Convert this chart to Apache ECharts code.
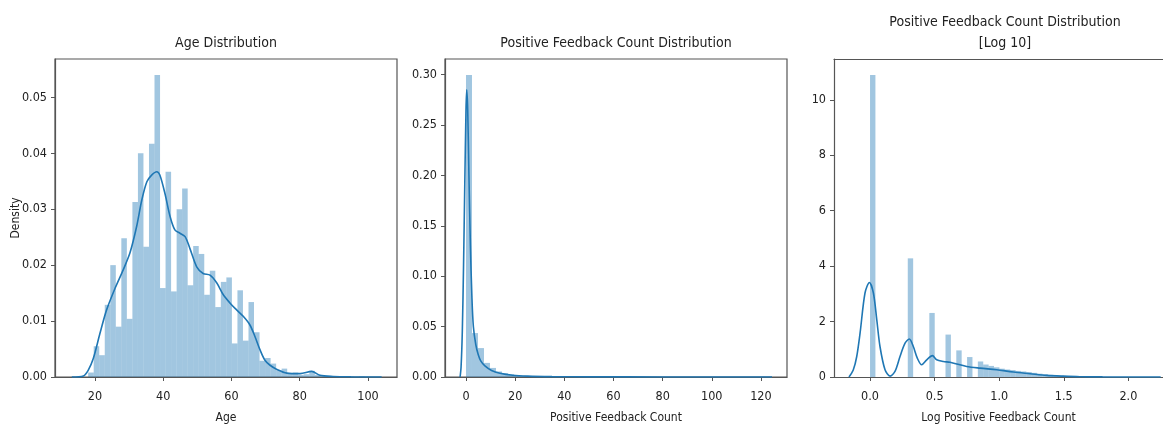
<!DOCTYPE html>
<html>
<head>
<meta charset="utf-8">
<script src="https://cdn.jsdelivr.net/npm/echarts@6/dist/echarts.min.js"></script>
<style>
html, body { margin: 0; padding: 0; background: #fff; }
#chart-panel { width: 1163px; height: 425px; }
</style>
</head>
<body>
<div id="chart-panel"></div>
<script>
/* Age 直方图: 起点, 组宽, 每组密度. */
let ageBinStart = 18
let ageBinWidth = 1.62
let ageDensity = [
    0.0008, 0.0055, 0.0039, 0.0129, 0.0200, 0.0090, 0.0248, 0.0104, 0.0313, 0.0400,
    0.0233, 0.0417, 0.0540, 0.0159, 0.0367, 0.0153, 0.0300, 0.0337, 0.0164, 0.0234,
    0.0220, 0.0147, 0.0190, 0.0125, 0.0170, 0.0178, 0.0060, 0.0155, 0.0065, 0.0134,
    0.0080, 0.0029, 0.0034, 0.0024, 0.0012, 0.0015, 0.0006, 0.0008, 0.0004, 0.0005,
    0.0011, 0.0004, 0.0002, 0.0002, 0.0001, 0.0001, 0.0001, 0.0001, 0, 0.0001
]
/* Age 核密度曲线. */
let ageKdeX = [13.2, 16.6, 18, 19.5, 21.5, 23.4, 25.9, 28.3, 30.3, 32.2, 33.7, 35.2, 36.6, 38.1, 39, 40.5,
    42, 43.4, 44.9, 46.4, 47.8, 49.8, 51.7, 53.7, 55.7, 57.6, 59.6, 61.5, 63.5, 65.4, 66.9, 68.4,
    69.8, 71.3, 73.2, 76.2, 80.1, 83.5, 85.9, 89.8, 95, 104]
let ageKdeY = [0, 0.0002, 0.0012, 0.0033, 0.0079, 0.012, 0.0159, 0.0192, 0.0223, 0.0269, 0.0316, 0.0349, 0.0361, 0.0367, 0.0361, 0.0328,
    0.0287, 0.0263, 0.0257, 0.0251, 0.023, 0.0197, 0.0185, 0.0182, 0.0168, 0.0147, 0.0132, 0.012, 0.0108, 0.0093, 0.0072, 0.0048,
    0.003, 0.0021, 0.0014, 0.0007, 0.0006, 0.001, 0.0003, 0.0001, 0.00003, 0]
let ageTicks = [20, 40, 60, 80, 100]
let ageDensityTicks = [0, 0.01, 0.02, 0.03, 0.04, 0.05]

/* Positive Feedback Count 直方图. */
let fbBinStart = 0
let fbBinWidth = 2.44
let fbDensity = [
    0.2997, 0.0436, 0.0287, 0.0140, 0.0090, 0.0055, 0.0038, 0.0026, 0.0018, 0.0012,
    0.0009, 0.0006, 0.0005, 0.0004, 0.0003, 0.0002, 0.0002, 0.0002, 0.0001, 0.0001,
    0.0001, 0.0001, 0.0001, 0, 0.0001, 0, 0.0001, 0, 0, 0.0001,
    0, 0, 0, 0, 0, 0, 0, 0, 0, 0,
    0, 0, 0, 0, 0, 0, 0, 0, 0, 0.0001
]
let fbKdeX = [-2.4, -2.0, -1.5, -1.0, -0.5, 0, 0.3, 0.7, 1.2, 1.8, 2.4, 3.0, 4.0, 5.0, 6.0, 7.7, 10.4, 13.8, 19, 25, 35, 50, 80, 124.5]
let fbKdeY = [0, 0.01, 0.045, 0.11, 0.19, 0.265, 0.285, 0.265, 0.2, 0.13, 0.08, 0.05, 0.032, 0.022, 0.016, 0.011, 0.0065, 0.0038, 0.0018, 0.0009, 0.0004, 0.00015, 0.00005, 0]
let fbTicks = [0, 20, 40, 60, 80, 100, 120]
let fbDensityTicks = [0, 0.05, 0.10, 0.15, 0.20, 0.25, 0.30]

/* Log10 Positive Feedback Count 直方图. */
let logBinStart = 0
let logBinWidth = 0.04173
let logDensity = [
    10.89, 0, 0, 0, 0, 0, 0, 4.28, 0, 0,
    0, 2.31, 0, 0, 1.53, 0, 0.96, 0, 0.72, 0,
    0.56, 0.45, 0.40, 0.35, 0.30, 0.27, 0.25, 0.22, 0.20, 0.18,
    0.15, 0.12, 0.10, 0.08, 0.06, 0.045, 0.035, 0.025, 0.018, 0.012,
    0.008, 0.006, 0.004, 0.003, 0.002, 0.001, 0.001, 0.0005, 0.0005, 0.0003
]
let logKdeX = [-0.163, -0.13, -0.103, -0.077, -0.039, -0.005, 0.026, 0.052, 0.077, 0.116, 0.155, 0.193, 0.232, 0.271, 0.304, 0.335,
    0.366, 0.4, 0.439, 0.483, 0.516, 0.568, 0.619, 0.671, 0.748, 0.851, 0.98, 1.11, 1.238, 1.367, 1.496, 1.625, 1.8, 2.0, 2.25]
let logKdeY = [0, 0.25, 0.74, 1.59, 3.03, 3.41, 3.03, 2.07, 1.1, 0.26, 0.03, 0.2, 0.74, 1.22, 1.37, 1.1,
    0.68, 0.44, 0.62, 0.77, 0.62, 0.56, 0.53, 0.47, 0.38, 0.32, 0.26, 0.18, 0.12, 0.06, 0.03, 0.01, 0.003, 0.001, 0]
let logTicks = [0, 0.5, 1.0, 1.5, 2.0]
let logDensityTicks = [0, 2, 4, 6, 8, 10]

! function(){
    let FONT = '"DejaVu Sans Condensed", "DejaVu Sans", sans-serif'
    let TEXT_COLOR = '#222'
    let AXIS_COLOR = '#555'
    let HIST_COLOR = 'rgba(31,119,180,0.42)'
    let LINE_COLOR = '#1f77b4'

    /* 每个子图的位置. 第三个子图右侧被画布裁掉, 所以不画网格边框. */
    let grids = [
        {left: 55, top: 59, width: 342, height: 318, show: true},
        {left: 445, top: 59, width: 342, height: 318, show: true},
        {left: 834, top: 59, right: 0, height: 318, show: false}
    ]

    /* 直方图 -> [x0, x1, 高度]. */
    function toBins(start, width, heights){
        return heights.map((h, i) => [start + i * width, start + (i + 1) * width, h])
    }

    function zip(xs, ys){
        return xs.map((x, i) => [x, ys[i]])
    }

    function renderHist(params, api){
        let p0 = api.coord([api.value(0), api.value(2)])
        let p1 = api.coord([api.value(1), 0])
        return {
            type: 'rect',
            shape: {x: p0[0], y: p0[1], width: p1[0] - p0[0], height: p1[1] - p0[1]},
            style: {fill: HIST_COLOR}
        }
    }

    function makeAxis(idx, min, max, ticks, digits, extra){
        return Object.assign({
            type: 'value',
            gridIndex: idx,
            min: min,
            max: max,
            splitLine: {show: false},
            axisLine: {show: true, onZero: false, lineStyle: {color: AXIS_COLOR, width: 1.2}},
            axisTick: {show: true, customValues: ticks, length: 4, lineStyle: {color: AXIS_COLOR, width: 1}},
            axisLabel: {
                customValues: ticks,
                formatter: (v) => Number(v).toFixed(digits),
                color: TEXT_COLOR, fontSize: 12.5, fontFamily: FONT
            },
            nameMoveOverlap: false,
            nameTextStyle: {color: TEXT_COLOR, fontSize: 12, fontFamily: FONT}
        }, extra)
    }

    function xAxis(idx, min, max, ticks, digits, name){
        let ax = makeAxis(idx, min, max, ticks, digits, {name: name, nameLocation: 'middle', nameGap: 35})
        ax.axisLabel.margin = 13
        return ax
    }

    function yAxis(idx, min, max, ticks, digits, name){
        let ax = makeAxis(idx, min, max, ticks, digits, {name: name || '', nameLocation: 'middle', nameGap: 33})
        ax.axisLabel.margin = 8
        return ax
    }

    /* 第三个子图顶部的边框线. */
    function topLine(idx, min, max){
        return {
            type: 'value', gridIndex: idx, position: 'top', min: min, max: max,
            splitLine: {show: false}, axisTick: {show: false}, axisLabel: {show: false},
            axisLine: {show: true, onZero: false, lineStyle: {color: AXIS_COLOR, width: 1.2}}
        }
    }

    function titleAt(text, cx, top){
        return {
            text: text, left: cx, top: top, textAlign: 'center', padding: 0,
            textStyle: {color: TEXT_COLOR, fontSize: 14, fontWeight: 'normal', fontFamily: FONT, lineHeight: 21}
        }
    }

    let panels = [
        {hist: toBins(ageBinStart, ageBinWidth, ageDensity), kde: zip(ageKdeX, ageKdeY)},
        {hist: toBins(fbBinStart, fbBinWidth, fbDensity), kde: zip(fbKdeX, fbKdeY)},
        {hist: toBins(logBinStart, logBinWidth, logDensity), kde: zip(logKdeX, logKdeY)}
    ]

    let series = []
    panels.map((p, i) => {
        series.push({
            type: 'custom', xAxisIndex: i, yAxisIndex: i,
            renderItem: renderHist, clip: true,
            encode: {x: [0, 1], y: 2},
            data: p.hist, z: 2, silent: true
        })
        series.push({
            type: 'line', xAxisIndex: i, yAxisIndex: i,
            data: p.kde, smooth: 0.3, showSymbol: false, clip: true,
            lineStyle: {color: LINE_COLOR, width: 1.6},
            z: 3, silent: true
        })
    })

    let myChart = echarts.init(document.getElementById('chart-panel'), null, {renderer: 'canvas'})
    myChart.setOption({
        animation: false,
        backgroundColor: '#fff',
        title: [
            titleAt('Age Distribution', 226, 33),
            titleAt('Positive Feedback Count Distribution', 616, 33),
            titleAt('Positive Feedback Count Distribution\n[Log 10]', 1005, 12)
        ],
        grid: grids.map(g => Object.assign({
            borderColor: AXIS_COLOR, borderWidth: 1.2, backgroundColor: 'transparent',
            outerBoundsMode: 'none', containLabel: false
        }, g)),
        xAxis: [
            xAxis(0, 8.28, 108.5, ageTicks, 0, 'Age'),
            xAxis(1, -8.54, 130.6, fbTicks, 0, 'Positive Feedback Count'),
            xAxis(2, -0.279, 2.268, logTicks, 1, 'Log Positive Feedback Count'),
            topLine(2, -0.279, 2.268)
        ],
        yAxis: [
            yAxis(0, 0, 0.05685, ageDensityTicks, 2, 'Density'),
            yAxis(1, 0, 0.3156, fbDensityTicks, 2),
            yAxis(2, 0, 11.47, logDensityTicks, 0)
        ],
        series: series
    })
}()
</script>
</body>
</html>
